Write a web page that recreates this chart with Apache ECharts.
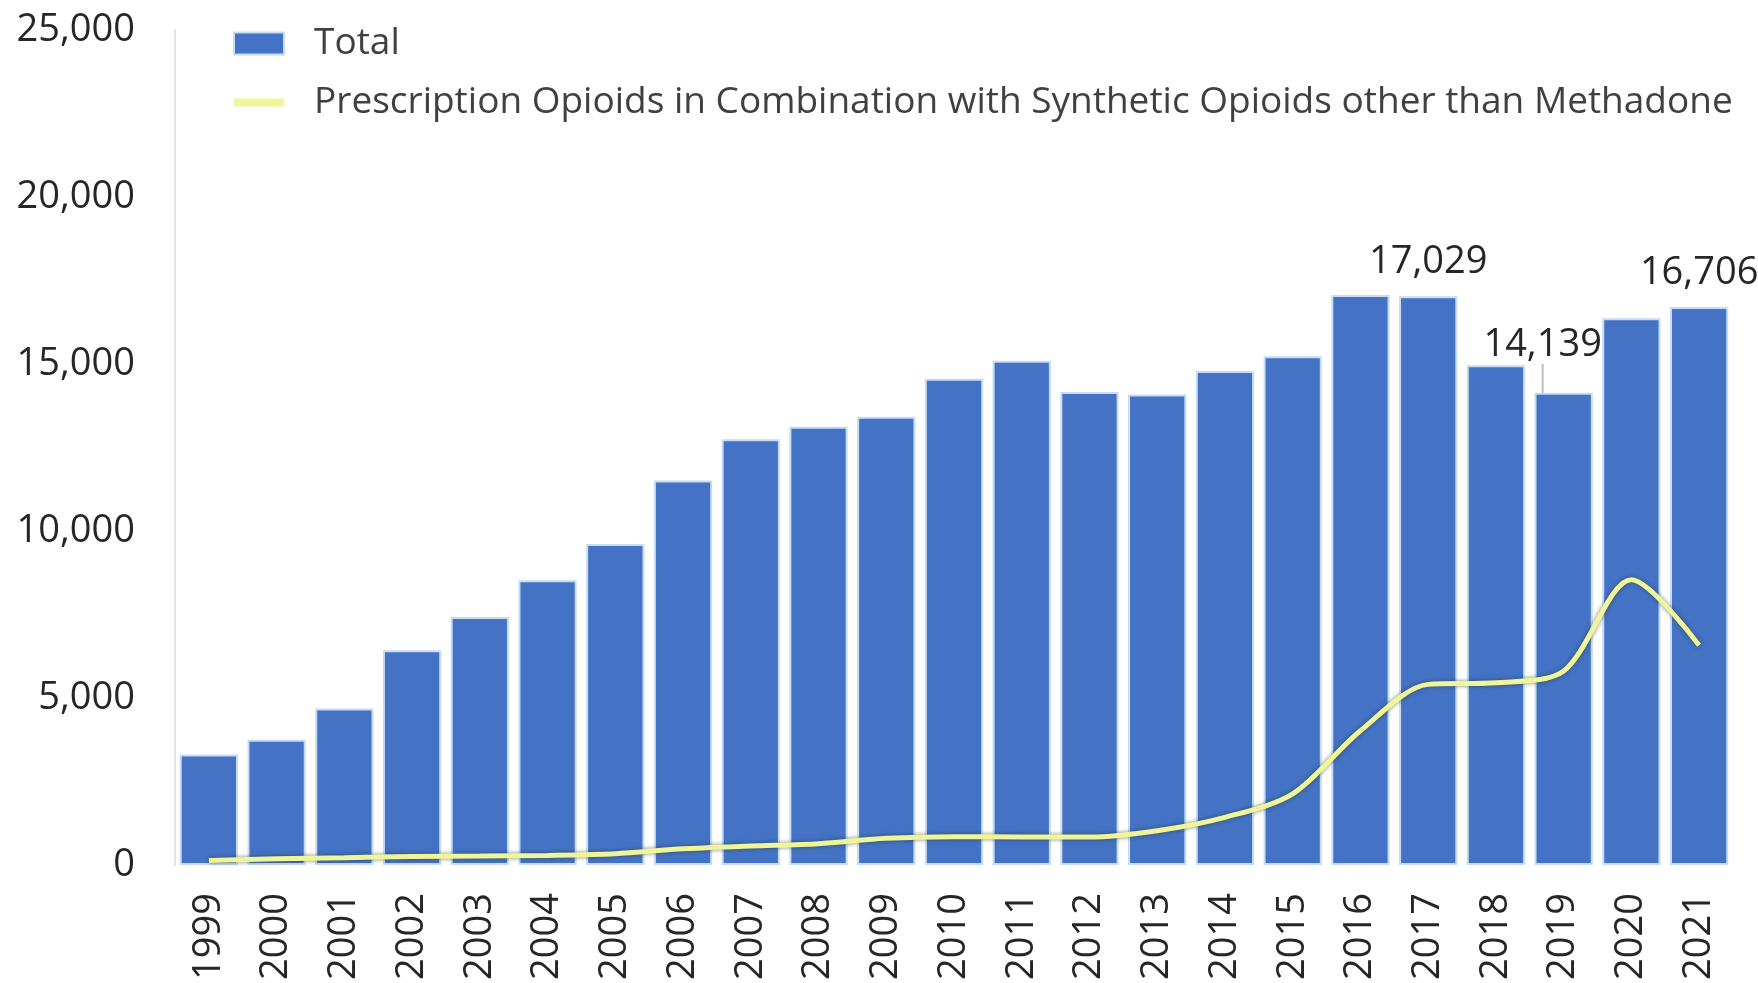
<!DOCTYPE html>
<html>
<head>
<meta charset="utf-8">
<script src="https://cdn.jsdelivr.net/npm/echarts@6/dist/echarts.min.js"></script>
<style>
  html, body { margin: 0; padding: 0; background: #fff; }
  #chart { width: 1758px; height: 983px; }
</style>
</head>
<body>
<div id="chart"></div>
<script>
const years = ["1999", "2000", "2001", "2002", "2003", "2004", "2005", "2006", "2007", "2008", "2009", "2010",
  "2011", "2012", "2013", "2014", "2015", "2016", "2017", "2018", "2019", "2020", "2021"];
const totalDeaths = [3310, 3750, 4690, 6430, 7430, 8530, 9610, 11510, 12750, 13120, 13420, 14560,
  15100, 14160, 14090, 14790, 15230, 17070, 17029, 14960, 14139, 16370, 16706];
const comboDeaths = [140, 190, 220, 260, 270, 290, 340, 490, 570, 640, 800, 850,
  840, 840, 1030, 1430, 2130, 4020, 5410, 5460, 5810, 8540, 6580];
const labelledYears = ["2017", "2019", "2021"];
const yTicks = { min: 0, max: 25000, step: 5000 };

const fontFamily = "'Open Sans', 'Noto Sans', sans-serif";
const fmt = (v) => v.toLocaleString("en-US");
const lineName = "Prescription Opioids in Combination with Synthetic Opioids other than Methadone";

const chart = echarts.init(document.getElementById("chart"));

const barData = totalDeaths.map((v, i) => {
  const item = { value: v };
  if (labelledYears.includes(years[i])) {
    item.label = { show: true };
    // 2019 label sits off to the left with a short leader line
    if (years[i] === "2019") item.labelLine = { show: true };
  }
  return item;
});

const option = {
  backgroundColor: "#ffffff",
  animation: false,
  legend: {
    orient: "vertical",
    left: 225,
    top: 20,
    itemWidth: 50,
    itemHeight: 22,
    itemGap: 22,
    textStyle: { fontFamily: fontFamily, fontSize: 37, color: "#404040", padding: [0, 0, 0, 25] },
    data: [
      { name: "Total", icon: "rect" },
      {
        name: lineName,
        itemStyle: { color: "rgba(0,0,0,0)", borderWidth: 0 },
        lineStyle: { width: 8, color: "#eef59a", shadowBlur: 0 }
      }
    ]
  },
  grid: { left: 175, right: 25, top: 30, bottom: 115 },
  xAxis: {
    type: "category",
    data: years,
    axisLine: { show: false },
    axisTick: { show: false },
    axisLabel: {
      rotate: 90,
      margin: 28,
      fontFamily: fontFamily,
      fontSize: 38,
      color: "#262626"
    }
  },
  yAxis: {
    type: "value",
    min: yTicks.min,
    max: yTicks.max,
    interval: yTicks.step,
    axisLine: { show: true, lineStyle: { color: "#e3e3e3", width: 2 } },
    axisTick: { show: false },
    splitLine: { show: false },
    axisLabel: {
      margin: 40,
      fontFamily: fontFamily,
      fontSize: 38,
      color: "#262626",
      formatter: fmt
    }
  },
  series: [
    {
      name: "Total",
      type: "bar",
      data: barData,
      barCategoryGap: "14%",
      itemStyle: { color: "#4472c4", borderColor: "#c5dcf3", borderWidth: 2 },
      label: {
        show: false,
        position: "top",
        distance: 15,
        fontFamily: fontFamily,
        fontSize: 38,
        color: "#262626",
        formatter: (p) => fmt(p.value)
      },
      labelLine: { show: false, lineStyle: { color: "#bfbfbf", width: 2 } },
      labelLayout: (p) => (p.dataIndex === 20 ? { dx: -21, dy: -14 } : {})
    },
    {
      name: lineName,
      type: "line",
      data: comboDeaths,
      smooth: 0.3,
      symbol: "none",
      lineStyle: {
        color: "#eef59a",
        width: 5,
        shadowColor: "rgba(40,50,20,0.6)",
        shadowBlur: 4
      },
      itemStyle: { color: "#eef59a" }
    }
  ]
};

chart.setOption(option);
</script>
</body>
</html>
